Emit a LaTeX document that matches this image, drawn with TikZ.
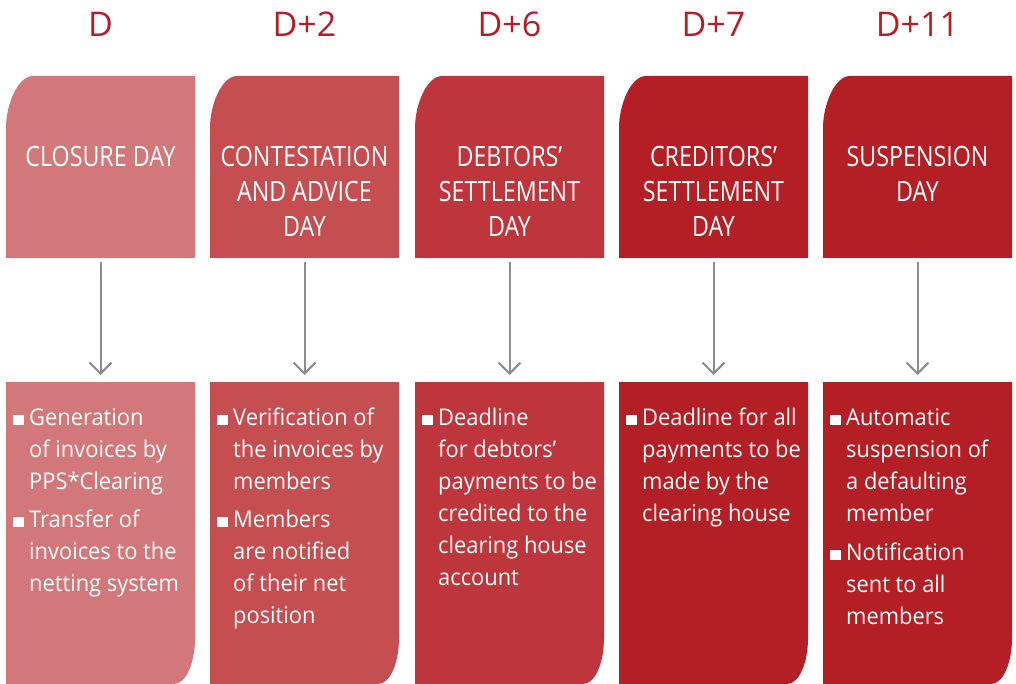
\documentclass[tikz,border=0pt]{standalone}
\usepackage{fontspec}
\setmainfont{Open Sans}
\newfontfamily\titlef[FakeStretch=0.83]{Open Sans}
\newfontfamily\bodyf[FakeStretch=0.95]{Open Sans}
\usetikzlibrary{arrows.meta}
\definecolor{cA}{RGB}{211,120,122}
\definecolor{cB}{RGB}{196,78,80}
\definecolor{cC}{RGB}{190,54,60}
\definecolor{cD}{RGB}{180,31,37}
\definecolor{headred}{RGB}{180,31,37}
\definecolor{arrowgray}{RGB}{138,139,147}
\newcommand{\TopShape}[2]{%
  \fill[#2] (#1,258) -- (#1,128) .. controls (#1,104) and (#1+12,76) .. (#1+27,76) -- (#1+189,76) -- (#1+189,258) -- cycle;}
\newcommand{\BotShape}[2]{%
  \fill[#2] (#1,382) -- (#1+189,382) -- (#1+189,638) .. controls (#1+189,663) and (#1+180,684) .. (#1+168,684) -- (#1,684) -- cycle;}
\newcommand{\Bul}[2]{\fill[white] (#1+7,#2-10) rectangle (#1+18,#2);}
\tikzset{
  boxnode/.style={minimum width=189pt, inner sep=0pt, outer sep=0pt},
  head/.style={text=headred, font=\fontsize{34pt}{40pt}\selectfont, anchor=base, inner sep=0pt},
  titletext/.style={text=white, font=\titlef\fontsize{28pt}{35pt}\selectfont, align=center, anchor=north, inner sep=0pt},
  bodytext/.style={text=white, font=\bodyf\fontsize{23pt}{32pt}\selectfont, align=left, anchor=north west, inner sep=0pt},
  conn/.style={draw=arrowgray, line width=2pt, -{Straight Barb[length=11pt,width=22pt,line width=2pt]}}
}
\begin{document}
\begin{tikzpicture}[x=1pt,y=-1pt]
\useasboundingbox (0,0) rectangle (1016,684);
% shapes
\TopShape{6}{cA}   \BotShape{6}{cA}
\TopShape{210}{cB} \BotShape{210}{cB}
\TopShape{415}{cC} \BotShape{415}{cC}
\TopShape{619}{cD} \BotShape{619}{cD}
\TopShape{823}{cD} \BotShape{823}{cD}
% anchor nodes for boxes
\node[boxnode, minimum height=182pt] (top1) at (100.5,167) {};
\node[boxnode, minimum height=182pt] (top2) at (304.5,167) {};
\node[boxnode, minimum height=182pt] (top3) at (509.5,167) {};
\node[boxnode, minimum height=182pt] (top4) at (713.5,167) {};
\node[boxnode, minimum height=182pt] (top5) at (917.5,167) {};
\node[boxnode, minimum height=302pt] (bot1) at (100.5,533) {};
\node[boxnode, minimum height=302pt] (bot2) at (304.5,533) {};
\node[boxnode, minimum height=302pt] (bot3) at (509.5,533) {};
\node[boxnode, minimum height=302pt] (bot4) at (713.5,533) {};
\node[boxnode, minimum height=302pt] (bot5) at (917.5,533) {};
% headers
\node[head] (h1) at (100.5,37) {D};
\node[head] (h2) at (304.5,37) {D+2};
\node[head] (h3) at (509.5,37) {D+6};
\node[head] (h4) at (713.5,37) {D+7};
\node[head] (h5) at (917.5,37) {D+11};
% titles
\node[titletext] (tt1) at (100.5,145) {\rule{0pt}{21pt}CLOSURE DAY};
\node[titletext] (tt2) at (304.5,145) {\rule{0pt}{21pt}CONTESTATION\\AND ADVICE\\DAY};
\node[titletext] (tt3) at (509.5,145) {\rule{0pt}{21pt}DEBTORS’\\SETTLEMENT\\DAY};
\node[titletext] (tt4) at (713.5,145) {\rule{0pt}{21pt}CREDITORS’\\SETTLEMENT\\DAY};
\node[titletext] (tt5) at (917.5,145) {\rule{0pt}{21pt}SUSPENSION\\DAY};
% arrows
\foreach \i in {1,...,5}{
  \draw[conn] ([yshift=-4pt]top\i.south) -- ([yshift=7pt]bot\i.north);
}
% body texts
\Bul{6}{425}
\node[bodytext] (b1a) at (29,408) {\rule{0pt}{17pt}Generation\\of invoices by\\PPS*Clearing};
\Bul{6}{527}
\node[bodytext] (b1b) at (29,510) {\rule{0pt}{17pt}Transfer of\\invoices to the\\netting system};
\Bul{210}{425}
\node[bodytext] (b2a) at (233,408) {\rule{0pt}{17pt}Verification of\\the invoices by\\members};
\Bul{210}{527}
\node[bodytext] (b2b) at (233,510) {\rule{0pt}{17pt}Members\\are notified\\of their net\\position};
\Bul{415}{425}
\node[bodytext] (b3a) at (438,408) {\rule{0pt}{17pt}Deadline\\for debtors’\\payments to be\\credited to the\\clearing house\\account};
\Bul{619}{425}
\node[bodytext] (b4a) at (642,408) {\rule{0pt}{17pt}Deadline for all\\payments to be\\made by the\\clearing house};
\Bul{823}{425}
\node[bodytext] (b5a) at (846,408) {\rule{0pt}{17pt}Automatic\\suspension of\\a defaulting\\member};
\Bul{823}{560}
\node[bodytext] (b5b) at (846,543) {\rule{0pt}{17pt}Notification\\sent to all\\members};
\end{tikzpicture}
\end{document}
